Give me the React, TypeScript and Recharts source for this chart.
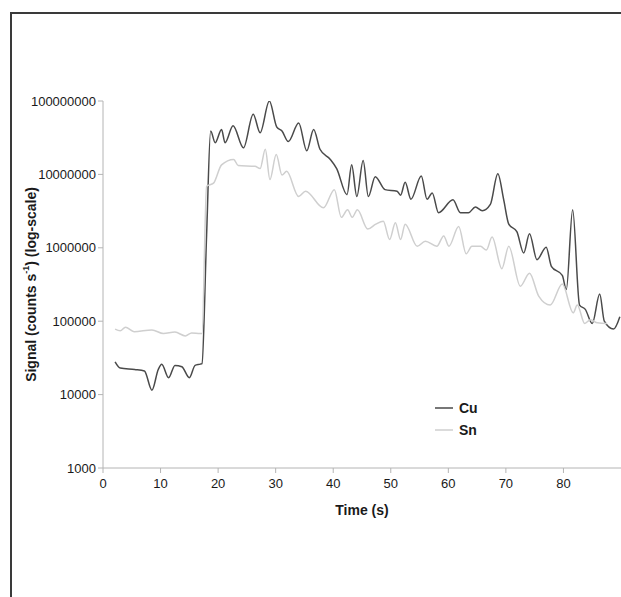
import React from 'react';
import { LineChart, Line, XAxis, YAxis, Legend } from 'recharts';

const cuTime = [2.1, 3.0, 5.5, 7.2, 8.5, 9.6, 10.2, 11.4, 12.5, 13.7, 15.0, 16.0, 16.9, 17.2, 18.0, 18.7, 19.5, 20.6, 21.2, 22.6, 24.4, 26.1, 27.3, 28.9, 30.2, 31.1, 32.2, 34.0, 35.4, 36.6, 37.7, 39.5, 40.6, 42.4, 43.2, 44.1, 45.2, 46.1, 47.3, 49.0, 51.1, 51.7, 52.5, 53.5, 55.3, 56.3, 57.2, 58.3, 60.8, 62.1, 63.5, 64.7, 65.9, 67.3, 68.6, 69.6, 70.5, 71.9, 73.1, 74.1, 75.4, 77.0, 77.9, 79.8, 80.5, 81.6, 82.8, 83.8, 85.0, 86.3, 87.1, 88.7, 89.8];
const cuSignal = [28000, 23000, 22000, 21000, 11500, 22000, 26000, 17000, 25000, 24000, 17000, 25000, 26000, 26500, 1500000, 39000000, 27000000, 41000000, 27000000, 46000000, 23000000, 66000000, 37000000, 100000000, 44000000, 39000000, 28000000, 50000000, 21000000, 41000000, 22000000, 16000000, 12000000, 5300000, 13500000, 5000000, 15500000, 5000000, 9300000, 6200000, 5900000, 5200000, 7800000, 4600000, 9500000, 4600000, 5600000, 3000000, 4500000, 3000000, 3000000, 3600000, 3200000, 3900000, 10200000, 4600000, 2100000, 1660000, 850000, 1550000, 690000, 1020000, 560000, 420000, 270000, 3300000, 166000, 145000, 93000, 234000, 100000, 78000, 115000];

const snTime = [2.1, 3.0, 3.9, 5.4, 8.5, 10.5, 12.5, 14.3, 15.4, 16.9, 17.2, 18.0, 19.2, 20.6, 22.7, 23.5, 26.4, 27.3, 28.2, 29.0, 30.1, 31.1, 31.9, 34.0, 35.2, 38.3, 40.2, 41.4, 42.5, 43.3, 44.2, 46.0, 47.4, 48.7, 49.8, 50.8, 51.7, 52.5, 54.6, 56.0, 58.0, 59.2, 60.1, 61.8, 63.1, 64.1, 65.6, 66.6, 67.6, 69.3, 70.5, 72.5, 74.1, 75.7, 77.7, 79.8, 81.7, 82.4, 83.7, 84.7, 85.9, 87.6];
const snSignal = [78000, 74000, 83000, 72000, 76000, 68000, 71000, 63000, 69000, 68000, 68000, 6900000, 7600000, 13500000, 16000000, 13200000, 12900000, 12000000, 22000000, 8500000, 18600000, 9800000, 11000000, 5000000, 5900000, 3500000, 6200000, 2600000, 3300000, 2600000, 3300000, 1800000, 2100000, 2300000, 1300000, 2200000, 1300000, 2100000, 1050000, 1230000, 1050000, 1450000, 1050000, 1950000, 830000, 1050000, 1050000, 930000, 1400000, 520000, 1050000, 300000, 450000, 220000, 166000, 320000, 130000, 166000, 93000, 105000, 95000, 93000];

const xTicks = [0, 10, 20, 30, 40, 50, 60, 70, 80];
const yTicks = [1000, 10000, 100000, 1000000, 10000000, 100000000];
const seriesNames = ['Cu', 'Sn'];
const seriesColors = ['#4a4a4a', '#cfcfcf'];

const cuData = cuTime.map((t, i) => ({ t, v: cuSignal[i] }));
const snData = snTime.map((t, i) => ({ t, v: snSignal[i] }));

const FONT = '"Liberation Sans", Arial, sans-serif';
const AXIS = '#b4b4b4';

const YLabel = (props: any) => {
  const vb = props.viewBox || {};
  const x = vb.x + vb.width - 72;
  const y = vb.y + vb.height / 2;
  return (
    <text x={x} y={y} transform={`rotate(-90, ${x}, ${y})`} textAnchor="middle" dominantBaseline="central"
      fontFamily={FONT} fontWeight="bold" fontSize={14} fill="#1a1a1a">
      <tspan>Signal (counts s</tspan>
      <tspan dy={-5} fontSize={9}>-1</tspan>
      <tspan dy={5}>) (log-scale)</tspan>
    </text>
  );
};

const XLabel = (props: any) => {
  const vb = props.viewBox || {};
  const x = 362;
  const y = vb.y + 42;
  return (
    <text x={x} y={y} textAnchor="middle" dominantBaseline="central"
      fontFamily={FONT} fontWeight="bold" fontSize={14} fill="#1a1a1a">Time (s)</text>
  );
};

const LegendContent = () => (
  <svg width={80} height={50}>
    {seriesNames.map((n, i) => (
      <g key={n}>
        <line x1={5} x2={23} y1={10 + i * 22} y2={10 + i * 22} stroke={seriesColors[i]} strokeWidth={1.5} />
        <text x={29} y={10 + i * 22} dominantBaseline="central" fontFamily={FONT} fontWeight="bold" fontSize={14} fill="#1a1a1a">{n}</text>
      </g>
    ))}
  </svg>
);

export default function App() {
  return (
    <div style={{ position: 'absolute', left: 0, top: 0, width: 621, height: 597, overflow: 'hidden', background: '#fff' }}>
      <div style={{ position: 'absolute', left: 10, top: 12, width: 611, height: 2, background: '#3a3a3a' }} />
      <div style={{ position: 'absolute', left: 10, top: 12, width: 2, height: 585, background: '#3a3a3a' }} />
      <div style={{ position: 'absolute', left: 0, top: 0 }}>
        <LineChart width={621} height={597} margin={{ top: 101, right: 0, bottom: 79, left: 0 }}>
          <XAxis dataKey="t" type="number" domain={[0, 90]} ticks={xTicks} allowDataOverflow
            stroke={AXIS} tickSize={5} tickMargin={6}
            tick={{ fill: '#1a1a1a', fontSize: 13, fontFamily: FONT }} height={50}
            label={<XLabel />} />
          <YAxis dataKey="v" scale="log" domain={[1000, 100000000]} ticks={yTicks} allowDataOverflow
            stroke={AXIS} tickSize={5} tickMargin={2} width={103} interval={0}
            tick={{ fill: '#1a1a1a', fontSize: 13, fontFamily: FONT }}
            label={<YLabel />} />
          <Legend layout="vertical" align="center" verticalAlign="middle"
            wrapperStyle={{ left: 430, top: 398, width: 80, height: 50 }} content={<LegendContent />} />
          <Line data={cuData} dataKey="v" name="Cu" type="monotone" stroke={seriesColors[0]} strokeWidth={1.5} dot={false} isAnimationActive={false} />
          <Line data={snData} dataKey="v" name="Sn" type="monotone" stroke={seriesColors[1]} strokeWidth={1.5} dot={false} isAnimationActive={false} />
        </LineChart>
      </div>
    </div>
  );
}
